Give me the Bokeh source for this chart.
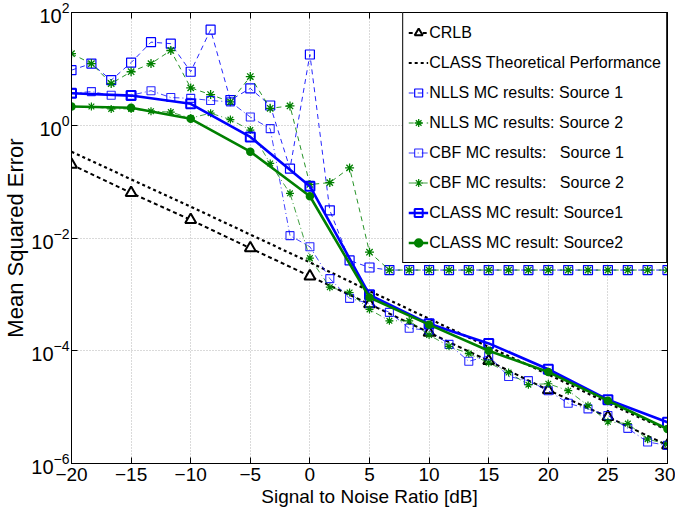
from bokeh.plotting import figure
from bokeh.models import (FixedTicker, Legend, LegendItem, LinearAxis,
                          CustomJSTickFormatter)
from bokeh.embed import file_html
from bokeh.resources import INLINE

# ---------------- data ----------------
snr_coarse = [-20, -15, -10, -5, 0, 5, 10, 15, 20, 25, 30]
snr_fine = [-20.0, -18.33, -16.67, -15.0, -13.33, -11.67, -10.0, -8.33, -6.67, -5.0,
            -3.33, -1.67, 0.0, 1.67, 3.33, 5.0, 6.67, 8.33, 10.0, 11.67,
            13.33, 15.0, 16.67, 18.33, 20.0, 21.67, 23.33, 25.0, 26.67, 28.33, 30.0]

crlb = [0.20, 0.063, 0.021, 0.0066, 0.0021, 6.7e-4, 2.1e-4, 6.6e-5, 2.0e-5, 6.7e-6, 2.1e-6]
class_theory = [0.34, 0.11, 0.036, 0.0115, 0.0037, 1.15e-3, 3.7e-4, 1.17e-4, 3.8e-5, 1.18e-5, 3.9e-6]

nlls_src1 = [9.5, 12.4, 6.3, 12.9, 29.8, 28.0, 8.9, 49.5, 2.8, 4.5,
             2.24, 0.17, 18.0, 0.031, 0.004, 0.0030, 0.0027, 0.0027, 0.0027, 0.0027,
             0.0027, 0.0027, 0.0027, 0.0027, 0.0027, 0.0027, 0.0027, 0.0027, 0.0027, 0.0027, 0.0027]
nlls_src2 = [18.6, 12.4, 5.5, 8.9, 12.4, 21.2, 4.6, 3.5, 2.6, 7.3,
             2.0, 2.2, 0.089, 0.096, 0.175, 0.0056, 0.0027, 0.0027, 0.0027, 0.0027,
             0.0027, 0.0027, 0.0027, 0.0027, 0.0027, 0.0027, 0.0027, 0.0027, 0.0027, 0.0027, 0.0027]
cbf_src1 = [3.7, 3.95, 3.4, 3.4, 4.1, 3.1, 3.0, 2.75, 2.6, 1.4,
            0.87, 0.011, 0.0070, 0.0019, 8.5e-4, 6.9e-4, 4.8e-4, 2.5e-4, 2.3e-4, 1.3e-4,
            6.5e-5, 8.1e-5, 3.5e-5, 2.95e-5, 1.95e-5, 1.17e-5, 9.3e-6, 7.1e-6, 4.2e-6, 2.4e-6, 2.1e-6]
cbf_src2 = [2.15, 2.15, 1.95, 1.95, 1.78, 1.71, 1.34, 1.64, 1.26, 0.82,
            0.21, 0.062, 0.0044, 0.00134, 0.00108, 5.4e-4, 3.4e-4, 3.4e-4, 1.9e-4, 1.2e-4,
            8.9e-5, 6.1e-5, 4.1e-5, 2.5e-5, 2.6e-5, 1.96e-5, 1.07e-5, 5.5e-6, 5.1e-6, 2.7e-6, 2.2e-6]
class_src1 = [3.7, 3.36, 2.4, 0.62, 0.083, 9.8e-4, 3.0e-4, 1.35e-4, 4.7e-5, 1.35e-5, 5.4e-6]
class_src2 = [2.15, 2.04, 1.3, 0.34, 0.055, 8.8e-4, 2.9e-4, 1.0e-4, 4.2e-5, 1.3e-5, 4.1e-6]

x_ticks = [-20, -15, -10, -5, 0, 5, 10, 15, 20, 25, 30]
x_tick_labels = ["\u221220", "\u221215", "\u221210", "\u22125", "0", "5", "10", "15", "20", "25", "30"]
y_ticks = [1e-6, 1e-4, 1e-2, 1e0, 1e2]

legend_labels = ["CRLB", "CLASS Theoretical Performance", "NLLS MC results: Source 1",
                 "NLLS MC results: Source 2", "CBF MC results:   Source 1",
                 "CBF MC results:   Source 2", "CLASS MC result: Source1", "CLASS MC result: Source2"]

# ---------------- styling ----------------
FONT_H = "Liberation Sans"
BLUE = "#0000ff"
GREEN = "#008000"

p = figure(width=675, height=509, y_axis_type="log",
           x_range=(-20, 30), y_range=(1e-6, 1e2),
           output_backend="svg", toolbar_location=None,
           min_border_left=40, min_border_right=8, min_border_top=12, min_border_bottom=44)

p.outline_line_color = "black"
p.outline_line_width = 1
p.background_fill_color = "white"
p.border_fill_color = "white"

xt = FixedTicker(ticks=x_ticks)
yt = FixedTicker(ticks=y_ticks)
p.xaxis.ticker = xt
p.yaxis.ticker = yt
p.xaxis.major_label_overrides = {t: l for t, l in zip(x_ticks, x_tick_labels)}

for ax in (p.xaxis, p.yaxis):
    ax.major_tick_in = 6
    ax.major_tick_out = 0
    ax.minor_tick_line_color = None
    ax.axis_line_color = "black"
    ax.major_tick_line_color = "black"
    ax.major_label_text_font = FONT_H
    ax.major_label_text_color = "black"
    ax.axis_label_text_font_style = "normal"
    ax.axis_label_text_color = "black"

p.xaxis.major_label_text_font_size = "19px"
p.yaxis.major_label_text_font_size = "20px"
p.xaxis.major_label_standoff = 4
p.yaxis.major_label_standoff = 2
p.xaxis.axis_label = "Signal to Noise Ratio [dB]"
p.xaxis.axis_label_text_font = FONT_H
p.xaxis.axis_label_text_font_size = "19px"
p.xaxis.axis_label_standoff = 2
p.yaxis.axis_label = "Mean Squared Error"
p.yaxis.axis_label_text_font = FONT_H
p.yaxis.axis_label_text_font_size = "22px"
p.yaxis.axis_label_standoff = 0

# box ticks on top and right (no labels)
top_ax = LinearAxis(ticker=xt, formatter=CustomJSTickFormatter(code="return ''"),
                    major_tick_in=6, major_tick_out=0,
                    minor_tick_line_color=None, major_label_text_font_size="1px",
                    major_label_standoff=0)
right_ax = LinearAxis(ticker=yt, formatter=CustomJSTickFormatter(code="return ''"),
                      major_tick_in=6, major_tick_out=0,
                      minor_tick_line_color=None, major_label_text_font_size="1px",
                      major_label_standoff=0)
p.add_layout(top_ax, "above")
p.add_layout(right_ax, "right")

for g in (p.xgrid, p.ygrid):
    g.grid_line_color = "#b4b4b4"
    g.grid_line_dash = "1 2"
    g.grid_line_width = 1

# ---------------- series ----------------
r1 = p.line(snr_coarse, crlb, line_color="black", line_width=2, line_dash="4 3")
r1m = p.scatter(snr_coarse, crlb, marker="triangle", size=11, line_color="black",
                fill_color="white", line_width=2)
r2 = p.line(snr_coarse, class_theory, line_color="black", line_width=2.2, line_dash="3 3")

r3 = p.line(snr_fine, nlls_src1, line_color=BLUE, line_width=1, line_dash="5 4", line_alpha=0.85)
r3m = p.scatter(snr_fine, nlls_src1, marker="square", size=9, line_color=BLUE,
                fill_color=None, line_width=1.2)
r4 = p.line(snr_fine, nlls_src2, line_color=GREEN, line_width=1, line_dash="5 4", line_alpha=0.85)
r4m = p.scatter(snr_fine, nlls_src2, marker="asterisk", size=9, line_color=GREEN, line_width=1.3)

r5 = p.line(snr_fine, cbf_src1, line_color=BLUE, line_width=1, line_dash="6 3 1 3", line_alpha=0.75)
r5m = p.scatter(snr_fine, cbf_src1, marker="square", size=8, line_color=BLUE,
                fill_color=None, line_width=1.1, line_alpha=0.85)
r6 = p.line(snr_fine, cbf_src2, line_color=GREEN, line_width=1, line_dash="6 3 1 3", line_alpha=0.75)
r6m = p.scatter(snr_fine, cbf_src2, marker="asterisk", size=8, line_color=GREEN, line_width=1.2)

r7 = p.line(snr_coarse, class_src1, line_color=BLUE, line_width=2.6)
r7m = p.scatter(snr_coarse, class_src1, marker="square", size=9, line_color=BLUE,
                fill_color=None, line_width=2)
r8 = p.line(snr_coarse, class_src2, line_color=GREEN, line_width=2.6)
r8m = p.scatter(snr_coarse, class_src2, marker="circle", size=7, line_color=GREEN,
                fill_color=GREEN, line_width=1.5)

renderer_groups = [[r1, r1m], [r2], [r3, r3m], [r4, r4m], [r5, r5m], [r6, r6m], [r7, r7m], [r8, r8m]]
items = [LegendItem(label=lab, renderers=rs) for lab, rs in zip(legend_labels, renderer_groups)]

legend = Legend(items=items, location="top_right", margin=0, padding=5, spacing=1,
                label_height=29, glyph_height=29, glyph_width=20, label_standoff=1,
                label_text_font=FONT_H, label_text_font_size="16px", label_text_color="black",
                border_line_color="black", border_line_width=1, border_line_alpha=1,
                background_fill_color="white", background_fill_alpha=1)
p.add_layout(legend)

open("out.html", "w").write(file_html(p, INLINE))
